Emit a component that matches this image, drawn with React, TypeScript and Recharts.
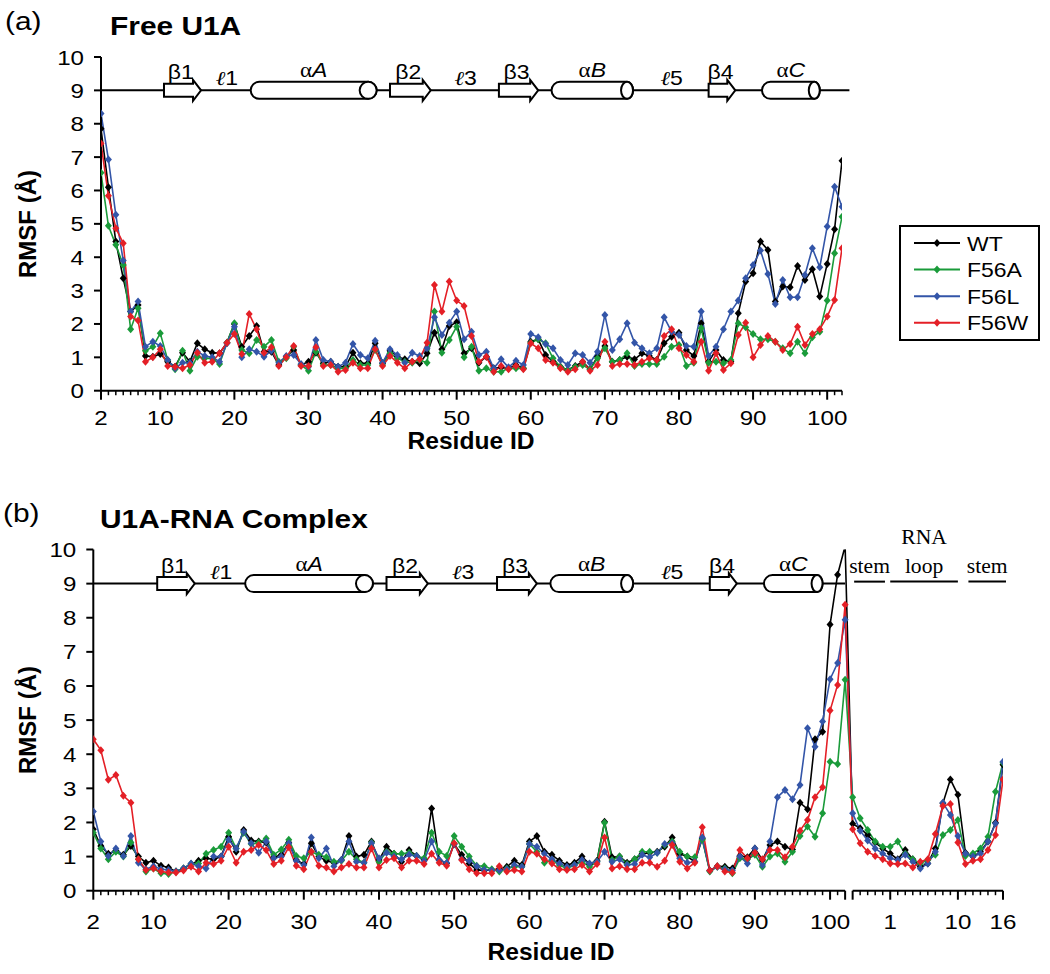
import { LineChart, Line, XAxis, YAxis, ReferenceArea } from 'recharts'

// ---- series look ----
const SERIES = [
  { key: 'WT', color: '#000000' },
  { key: 'F56A', color: '#1a9b3a' },
  { key: 'F56L', color: '#3355a8' },
  { key: 'F56W', color: '#e41f26' },
]

// ---- x categories ----
const proteinResidues = Array.from({ length: 101 }, (_, i) => i + 2) // 2..102
const rnaResidues = [-4, -3, -2, -1, 0, 1, 2, 3, 4, 5, 6, 7, 8, 9, 10, 11, 12, 13, 14, 15, 16]
const RNA_OFFSET = 107 // RNA residue r sits at r + 107 on the complex axis
const rnaTickLabels = [1, 10, 16]
const proteinTickLabels = [2, 10, 20, 30, 40, 50, 60, 70, 80, 90, 100]

// ---- (a) free U1A, residues 2..102 ----
const wtFree = [
  7.85, 6.1, 4.47, 3.37, 2.37, 2.57, 1.04, 1.02, 1.1, 0.87,
  0.72, 1.14, 0.87, 1.42, 1.24, 1.14, 1.12, 1.44, 2.0, 1.32,
  1.64, 1.94, 1.17, 1.17, 0.77, 1.02, 1.22, 0.77, 0.87, 1.14,
  0.82, 0.87, 0.72, 0.72, 1.14, 0.82, 0.82, 1.42, 0.82, 1.2,
  1.02, 0.94, 0.87, 0.82, 1.12, 1.74, 1.24, 1.94, 2.05, 1.12,
  1.27, 0.84, 1.02, 0.67, 0.7, 0.67, 0.77, 0.67, 1.47, 1.54,
  1.07, 0.87, 0.72, 0.62, 0.74, 0.87, 0.64, 1.02, 1.34, 0.87,
  0.92, 1.02, 0.94, 1.12, 1.04, 0.92, 1.42, 1.62, 1.74, 1.22,
  1.04, 2.02, 0.87, 1.22, 0.92, 0.87, 2.32, 3.27, 3.52, 4.47,
  4.22, 2.67, 3.12, 3.1, 3.74, 3.32, 3.64, 2.82, 3.8, 4.84, 6.89,
]
const f56aFree = [
  6.53, 4.94, 4.37, 3.77, 1.84, 2.47, 1.2, 1.32, 1.72, 0.92,
  0.64, 1.2, 0.6, 1.02, 0.97, 0.97, 0.8, 1.44, 2.02, 1.22,
  1.12, 1.52, 1.32, 1.52, 0.87, 0.97, 1.32, 0.77, 0.6, 1.17,
  0.77, 0.77, 0.67, 0.67, 0.92, 0.77, 0.77, 1.22, 0.77, 1.12,
  0.97, 0.87, 0.84, 0.92, 0.84, 2.37, 1.14, 1.52, 1.92, 1.0,
  1.32, 0.6, 0.67, 0.57, 0.57, 0.67, 0.67, 0.67, 1.44, 1.54,
  1.42, 0.97, 0.72, 0.62, 0.72, 0.77, 0.64, 0.97, 1.27, 0.87,
  0.92, 1.12, 0.74, 0.8, 0.8, 0.8, 1.02, 1.32, 1.37, 0.74,
  0.84, 1.87, 0.84, 0.87, 0.82, 0.92, 2.02, 1.9, 1.7, 1.54,
  1.54, 1.47, 1.27, 1.12, 1.47, 1.12, 1.6, 1.77, 2.7, 4.12, 5.21,
]
const f56lFree = [
  8.31, 6.93, 5.27, 3.9, 2.37, 2.67, 1.32, 1.47, 1.34, 0.92,
  0.67, 0.84, 0.84, 1.17, 1.04, 1.0, 0.87, 1.42, 1.92, 1.0,
  1.24, 1.17, 1.02, 1.2, 0.84, 1.04, 1.07, 0.8, 0.72, 1.52,
  0.92, 0.87, 0.72, 0.84, 1.4, 1.07, 0.97, 1.5, 0.84, 1.24,
  1.07, 0.84, 1.14, 1.04, 1.27, 2.2, 1.67, 2.04, 2.37, 1.54,
  1.77, 1.07, 1.17, 0.67, 0.94, 0.7, 0.9, 0.77, 1.7, 1.6,
  1.4, 1.27, 0.92, 0.77, 1.12, 1.07, 0.84, 1.17, 2.27, 1.22,
  1.54, 2.02, 1.44, 1.27, 1.12, 1.27, 2.2, 1.77, 1.67, 1.34,
  1.32, 2.37, 1.04, 1.32, 1.84, 2.37, 2.7, 3.37, 3.77, 4.2,
  3.5, 2.6, 3.32, 2.8, 2.8, 3.47, 4.27, 3.7, 4.92, 6.11, 5.51,
]
const f56wFree = [
  7.41, 5.84, 4.87, 4.42, 2.22, 2.1, 0.87, 1.0, 1.24, 0.74,
  0.72, 0.67, 0.77, 1.14, 0.84, 0.87, 1.12, 1.44, 1.7, 1.1,
  2.3, 1.84, 1.14, 1.3, 0.74, 1.0, 1.34, 0.74, 0.74, 1.3,
  0.74, 0.77, 0.57, 0.62, 0.84, 0.67, 0.67, 1.24, 0.74, 1.04,
  0.84, 0.67, 0.87, 0.94, 1.44, 3.17, 2.37, 3.27, 2.7, 2.54,
  1.64, 0.87, 1.02, 0.57, 0.74, 0.64, 0.74, 0.64, 1.42, 1.27,
  0.92, 0.84, 0.67, 0.57, 0.64, 0.87, 0.6, 0.77, 1.47, 0.74,
  0.8, 0.8, 0.77, 0.87, 0.97, 0.92, 1.64, 1.84, 1.27, 1.07,
  0.87, 1.47, 0.6, 1.12, 0.62, 0.82, 1.67, 2.04, 1.0, 1.37,
  1.64, 1.47, 1.22, 1.4, 1.92, 1.37, 1.7, 1.84, 2.22, 2.72, 4.27,
]

// ---- (b) U1A-RNA complex: protein 2..102 then RNA -4..16 ----
const wtBound = [
  1.8, 1.31, 1.08, 1.17, 1.05, 1.31, 1.0, 0.82, 0.88, 0.73,
  0.68, 0.56, 0.65, 0.78, 0.88, 0.95, 0.92, 1.0, 1.58, 1.14,
  1.78, 1.47, 1.44, 1.41, 0.98, 1.05, 1.41, 0.9, 0.78, 1.39,
  1.0, 0.88, 0.82, 0.9, 1.6, 1.0, 1.05, 1.44, 0.9, 1.29,
  1.08, 0.85, 1.19, 1.02, 0.92, 2.41, 0.9, 0.8, 1.37, 1.05,
  0.8, 0.61, 0.59, 0.61, 0.63, 0.7, 0.88, 0.75, 1.44, 1.6,
  1.14, 1.05, 0.88, 0.75, 0.82, 1.0, 0.78, 0.88, 2.02, 0.98,
  1.0, 0.82, 0.92, 1.08, 1.11, 1.14, 1.29, 1.56, 1.08, 1.0,
  0.85, 1.53, 0.59, 0.72, 0.7, 0.65, 1.02, 0.98, 1.24, 0.9,
  1.34, 1.44, 1.29, 1.21, 2.58, 2.39, 4.44, 4.66, 7.8, 9.26, 10.1,
]
const wtRna = [1.96, 1.83, 1.63, 1.41, 1.24, 1.09, 0.92, 1.19, 0.92, 0.7, 0.8, 1.24, 2.56, 3.26, 2.81, 1.11, 1.0, 1.14, 1.44, 1.99, 3.69]
const f56aBound = [
  1.7, 1.24, 0.92, 1.14, 1.0, 1.41, 0.92, 0.56, 0.65, 0.51,
  0.49, 0.56, 0.65, 0.78, 0.8, 1.08, 1.19, 1.29, 1.7, 1.24,
  1.7, 1.37, 1.41, 1.53, 1.05, 1.21, 1.49, 1.02, 0.95, 1.14,
  1.05, 0.98, 0.85, 0.88, 1.14, 0.92, 0.82, 1.41, 0.85, 1.14,
  1.08, 1.08, 1.11, 1.02, 0.95, 1.7, 1.14, 1.02, 1.6, 1.29,
  1.0, 0.73, 0.72, 0.63, 0.56, 0.65, 0.7, 0.7, 1.37, 1.14,
  0.82, 0.9, 0.75, 0.65, 0.75, 0.85, 0.7, 0.85, 1.99, 0.9,
  1.0, 0.78, 0.92, 1.14, 1.14, 1.11, 1.34, 1.44, 1.14, 1.0,
  0.98, 1.5, 0.56, 0.7, 0.65, 0.51, 0.95, 0.92, 1.05, 0.7,
  1.0, 1.09, 0.85, 1.14, 1.6, 1.88, 1.58, 2.27, 3.78, 3.71, 6.18,
]
const f56aRna = [2.74, 2.12, 1.78, 1.44, 1.29, 1.29, 1.44, 1.08, 0.92, 0.8, 0.9, 1.05, 1.63, 1.78, 2.07, 1.02, 1.09, 1.24, 1.58, 2.9, 3.75]
const f56lBound = [
  2.32, 1.44, 1.02, 1.24, 1.02, 1.6, 0.82, 0.63, 0.72, 0.63,
  0.61, 0.56, 0.65, 0.8, 0.72, 0.65, 1.0, 1.0, 1.49, 1.24,
  1.73, 1.39, 1.11, 1.44, 0.95, 1.0, 1.39, 0.88, 0.75, 1.56,
  0.95, 1.24, 0.72, 0.9, 1.44, 0.85, 0.82, 1.39, 0.95, 1.11,
  1.0, 0.92, 1.05, 1.02, 0.88, 1.44, 0.9, 0.82, 1.37, 0.92,
  0.88, 0.72, 0.61, 0.59, 0.61, 0.63, 0.75, 0.7, 1.37, 1.29,
  1.08, 0.92, 0.8, 0.7, 0.75, 0.9, 0.8, 0.85, 1.14, 0.85,
  0.92, 0.75, 0.78, 1.05, 0.98, 1.11, 1.37, 1.39, 0.95, 0.82,
  0.85, 1.56, 0.59, 0.7, 0.63, 0.59, 1.0, 0.8, 1.24, 0.75,
  1.44, 2.74, 2.95, 2.68, 3.1, 4.76, 4.22, 4.96, 6.2, 6.67, 7.94,
]
const f56lRna = [2.27, 1.76, 1.47, 1.24, 1.08, 0.95, 0.9, 1.05, 0.85, 0.65, 0.8, 1.14, 2.58, 2.22, 1.6, 1.09, 1.0, 1.09, 1.44, 1.97, 3.78]
const f56wBound = [
  4.44, 4.12, 3.25, 3.39, 2.78, 2.58, 0.92, 0.61, 0.65, 0.56,
  0.53, 0.53, 0.59, 0.7, 0.56, 0.82, 0.78, 0.88, 1.29, 0.82,
  1.14, 1.19, 1.34, 1.19, 0.78, 0.88, 1.27, 0.73, 0.63, 1.14,
  0.73, 0.68, 0.56, 0.68, 0.78, 0.68, 0.68, 1.24, 0.68, 0.9,
  0.95, 0.68, 0.88, 0.88, 0.78, 1.08, 0.82, 0.73, 1.39, 0.9,
  0.63, 0.51, 0.51, 0.51, 0.72, 0.56, 0.61, 0.56, 1.14, 1.08,
  0.92, 0.8, 0.63, 0.61, 0.63, 0.75, 0.56, 0.78, 1.56, 0.65,
  0.72, 0.63, 0.63, 0.82, 0.82, 0.7, 0.88, 1.34, 0.85, 0.65,
  0.82, 1.86, 0.59, 0.72, 0.56, 0.53, 1.19, 0.95, 1.11, 0.92,
  1.19, 1.19, 0.98, 1.29, 1.76, 2.07, 2.74, 3.03, 5.28, 6.03, 8.38,
]
const f56wRna = [1.8, 1.39, 1.14, 1.02, 0.92, 0.8, 0.78, 0.8, 0.68, 0.85, 0.92, 1.66, 2.48, 2.54, 1.41, 0.78, 0.88, 0.92, 1.19, 1.63, 3.26]

// ---- secondary structure (residue numbers) ----
const strands = [
  { label: 'β1', start: 10.5, end: 15.5 },
  { label: 'β2', start: 41, end: 46.5 },
  { label: 'β3', start: 55.7, end: 61 },
  { label: 'β4', start: 84, end: 87.6 },
]
const helices = [
  { label: 'A', start: 22.2, end: 39.2, cap: 17 },
  { label: 'B', start: 62.8, end: 73.8, cap: 12 },
  { label: 'C', start: 91.2, end: 99, cap: 11 },
]
const loops = [
  { label: '1', at: 19 },
  { label: '3', at: 51.2 },
  { label: '5', at: 79 },
]
const rnaParts = [
  { label: 'stem', start: -3.8, end: 0.3 },
  { label: 'loop', start: 1, end: 10 },
  { label: 'stem', start: 11.4, end: 16.4 },
]

const freeRows = proteinResidues.map((r, i) => ({
  pos: r, WT: wtFree[i], F56A: f56aFree[i], F56L: f56lFree[i], F56W: f56wFree[i],
}))
const complexRows = [
  ...proteinResidues.map((r, i) => ({
    pos: r, WT: wtBound[i], F56A: f56aBound[i], F56L: f56lBound[i], F56W: f56wBound[i],
  })),
  ...rnaResidues.map((r, i) => ({
    pos: r + RNA_OFFSET, WT: wtRna[i], F56A: f56aRna[i], F56L: f56lRna[i], F56W: f56wRna[i],
  })),
]

const FONT = 'Arial, "Liberation Sans", sans-serif'
const SERIF = '"Liberation Serif", "Times New Roman", serif'
const STRETCH = 1.15

function Wide({ x, y, size, children, anchor = 'start', weight = 'normal', family = FONT, sx = STRETCH }: any) {
  return (
    <g transform={`translate(${x},${y}) scale(${sx},1)`}>
      <text textAnchor={anchor} fontSize={size} fontWeight={weight} fontFamily={family} fill="#000">
        {children}
      </text>
    </g>
  )
}

function diamond(color: string, name: string) {
  return (p: any) => {
    const { cx, cy, index } = p
    if (cx == null || cy == null) return <g key={`${name}-${index}`} />
    return (
      <path
        key={`${name}-${index}`}
        d={`M${cx},${cy - 4}L${cx + 3.5},${cy}L${cx},${cy + 4}L${cx - 3.5},${cy}Z`}
        fill={color}
      />
    )
  }
}

function makeXTick(labels: Record<number, string>, majors: number[], labelGap: number) {
  return (p: any) => {
    const { x, y, payload } = p
    const v = payload.value
    const major = majors.includes(v)
    const label = labels[v]
    return (
      <g>
        <line x1={x} x2={x} y1={y} y2={y + (major ? 9 : 4.5)} stroke="#000" strokeWidth={major ? 2 : 1.5} />
        {label !== undefined && <Wide x={x} y={y + labelGap} size={21} anchor="middle">{label}</Wide>}
      </g>
    )
  }
}

function YTick(p: any) {
  const { x, y, payload } = p
  return (
    <g>
      <line x1={x - 7} x2={x} y1={y} y2={y} stroke="#000" strokeWidth={2} />
      <Wide x={x - 17} y={y + 7.5} size={21} anchor="end">{payload.value}</Wide>
    </g>
  )
}

// the whole secondary-structure strip, laid out in data units inside one ReferenceArea (y 8..10)
function Track(p: any) {
  const { x, y, width, height, from, to, backbone, withRna } = p
  const px = (v: number) => x + ((v - from) / (to - from)) * width
  const cy = y + height / 2 // value 9
  const parts: any[] = []
  parts.push(<line key="bb" x1={px(backbone[0])} x2={px(backbone[1])} y1={cy} y2={cy} stroke="#000" strokeWidth={2} />)
  strands.forEach((s, i) => {
    const x0 = px(s.start)
    const x1 = px(s.end)
    const bx = x1 - 8
    const pts = [
      [x0, cy - 6.5], [bx, cy - 6.5], [bx, cy - 10.5], [x1, cy], [bx, cy + 10.5], [bx, cy + 6.5], [x0, cy + 6.5],
    ]
    parts.push(
      <polygon key={`s${i}`} points={pts.map((q) => q.join(',')).join(' ')} fill="#fff" stroke="#000" strokeWidth={2} />,
    )
    parts.push(
      <Wide key={`sl${i}`} x={px(s.start + (s.end - s.start) * 0.45)} y={cy - 11} size={20} anchor="middle">{s.label}</Wide>,
    )
  })
  helices.forEach((h, i) => {
    const x0 = px(h.start)
    const x1 = px(h.end)
    const r = 8.5
    const cw = h.cap / 2
    const ex = x1 - cw
    parts.push(
      <g key={`h${i}`}>
        <path
          d={`M${x0 + r},${cy - r}L${ex},${cy - r}A${cw},${r} 0 0 1 ${ex},${cy + r}L${x0 + r},${cy + r}A${r},${r} 0 0 1 ${x0 + r},${cy - r}Z`}
          fill="#fff" stroke="#000" strokeWidth={2}
        />
        <ellipse cx={ex} cy={cy} rx={cw} ry={r} fill="#fff" stroke="#000" strokeWidth={2} />
      </g>,
    )
    parts.push(
      <Wide key={`hl${i}`} x={px((h.start + h.end) / 2)} y={cy - 13} size={20} anchor="middle">
        <tspan fontFamily={SERIF}>α</tspan>
        <tspan fontStyle="italic">{h.label}</tspan>
      </Wide>,
    )
  })
  loops.forEach((l, i) => {
    parts.push(
      <Wide key={`l${i}`} x={px(l.at)} y={cy - 5} size={20} anchor="middle">
        <tspan fontStyle="italic" fontFamily={SERIF}>ℓ</tspan>
        <tspan>{l.label}</tspan>
      </Wide>,
    )
  })
  if (withRna) {
    rnaParts.forEach((s, i) => {
      const a = px(s.start + RNA_OFFSET)
      const b = px(s.end + RNA_OFFSET)
      parts.push(<line key={`r${i}`} x1={a} x2={b} y1={cy - 2} y2={cy - 2} stroke="#000" strokeWidth={2} />)
      parts.push(
        <Wide key={`rl${i}`} x={(a + b) / 2} y={cy - 11} size={20} anchor="middle" family={SERIF} sx={1.08}>{s.label}</Wide>,
      )
    })
    const mid = px((rnaParts[1].start + rnaParts[1].end) / 2 + RNA_OFFSET)
    parts.push(<Wide key="rna" x={mid} y={cy - 40} size={20} anchor="middle" family={SERIF} sx={1.08}>RNA</Wide>)
  }
  return <g>{parts}</g>
}

function Panel({ rows, width, height, margin, domain, ticks, tickLabels, majors, labelGap, trackTo, backbone, withRna, axisSegments }: any) {
  return (
    <LineChart width={width} height={height} data={rows} margin={margin}>
      <XAxis
        type="number"
        dataKey="pos"
        domain={domain}
        ticks={ticks}
        interval={0}
        height={40}
        allowDataOverflow
        tickLine={false}
        tickSize={0}
        tickMargin={0}
        axisLine={axisSegments ? false : { stroke: '#000', strokeWidth: 2 }}
        tick={makeXTick(tickLabels, majors, labelGap)}
      />
      <YAxis
        type="number"
        domain={[0, 10]}
        ticks={[0, 1, 2, 3, 4, 5, 6, 7, 8, 9, 10]}
        interval={0}
        width={60}
        allowDataOverflow
        tickLine={false}
        tickSize={0}
        tickMargin={0}
        axisLine={{ stroke: '#000', strokeWidth: 2 }}
        tick={YTick}
      />
      {axisSegments &&
        axisSegments.map((seg: number[], i: number) => (
          <ReferenceArea
            key={`ax${i}`}
            x1={seg[0]}
            x2={seg[1]}
            y1={0}
            y2={10}
            ifOverflow="visible"
            shape={(p: any) => (
              <line x1={p.x} x2={p.x + p.width} y1={p.y + p.height} y2={p.y + p.height} stroke="#000" strokeWidth={2} />
            )}
          />
        ))}
      <ReferenceArea
        x1={2}
        x2={trackTo}
        y1={8}
        y2={10}
        ifOverflow="visible"
        shape={(p: any) => <Track {...p} from={2} to={trackTo} backbone={backbone} withRna={withRna} />}
      />
      {SERIES.map((s) => (
        <Line
          key={s.key}
          type="linear"
          dataKey={s.key}
          stroke={s.color}
          strokeWidth={1.6}
          dot={diamond(s.color, s.key)}
          activeDot={false}
          isAnimationActive={false}
        />
      ))}
    </LineChart>
  )
}

const freeLabels: Record<number, string> = {}
proteinTickLabels.forEach((t) => (freeLabels[t] = String(t)))
const complexLabels: Record<number, string> = { ...freeLabels }
rnaTickLabels.forEach((t) => (complexLabels[t + RNA_OFFSET] = String(t)))
const complexTicks = [...proteinResidues, ...rnaResidues.map((r) => r + RNA_OFFSET)]
const complexMajors = [...proteinTickLabels, 102, 103, ...rnaTickLabels.map((t) => t + RNA_OFFSET)]

export default function App() {
  return (
    <div style={{ position: 'relative', width: 1050, height: 974, background: '#fff', fontFamily: FONT }}>
      <style>{`body{margin:0}`}</style>
      <div style={{ position: 'absolute', left: 0, top: 0 }}>
        <Panel
          rows={freeRows}
          width={1050}
          height={470}
          margin={{ top: 57, right: 208, bottom: 39.3, left: 41 }}
          domain={[2, 102]}
          ticks={proteinResidues}
          tickLabels={freeLabels}
          majors={proteinTickLabels}
          labelGap={34}
          trackTo={103}
          backbone={[2, 103]}
          withRna={false}
        />
      </div>
      <div style={{ position: 'absolute', left: 0, top: 470 }}>
        <Panel
          rows={complexRows}
          width={1050}
          height={504}
          margin={{ top: 79.5, right: 47, bottom: 43.3, left: 33.3 }}
          domain={[2, 123]}
          ticks={complexTicks}
          tickLabels={complexLabels}
          majors={complexMajors}
          labelGap={38}
          trackTo={124}
          backbone={[2, 102]}
          withRna
          axisSegments={[[2, 102], [103, 123]]}
        />
      </div>
      <svg width={1050} height={974} style={{ position: 'absolute', left: 0, top: 0, pointerEvents: 'none' }}>
        <Wide x={5} y={30} size={26}>(a)</Wide>
        <Wide x={110} y={35} size={26} weight="bold">Free U1A</Wide>
        <Wide x={3} y={522} size={26}>(b)</Wide>
        <Wide x={100} y={528} size={26} weight="bold">U1A-RNA Complex</Wide>
        <Wide x={471} y={449} size={23} weight="bold" anchor="middle" sx={1.07}>Residue ID</Wide>
        <Wide x={551} y={960} size={23} weight="bold" anchor="middle" sx={1.07}>Residue ID</Wide>
        <text transform="translate(36,224) rotate(-90)" textAnchor="middle" fontSize={24} fontWeight="bold" fontFamily={FONT}>RMSF (Å)</text>
        <text transform="translate(36,720) rotate(-90)" textAnchor="middle" fontSize={24} fontWeight="bold" fontFamily={FONT}>RMSF (Å)</text>
        <rect x={900} y={226} width={139} height={114} fill="#fff" stroke="#000" strokeWidth={2} />
        {SERIES.map((s, i) => {
          const ly = 243 + i * 26.6
          return (
            <g key={s.key}>
              <line x1={914} x2={960} y1={ly} y2={ly} stroke={s.color} strokeWidth={2} />
              <path d={`M937,${ly - 4}L940.5,${ly}L937,${ly + 4}L933.5,${ly}Z`} fill={s.color} />
              <Wide x={967} y={ly + 7.5} size={20}>{s.key}</Wide>
            </g>
          )
        })}
      </svg>
    </div>
  )
}
